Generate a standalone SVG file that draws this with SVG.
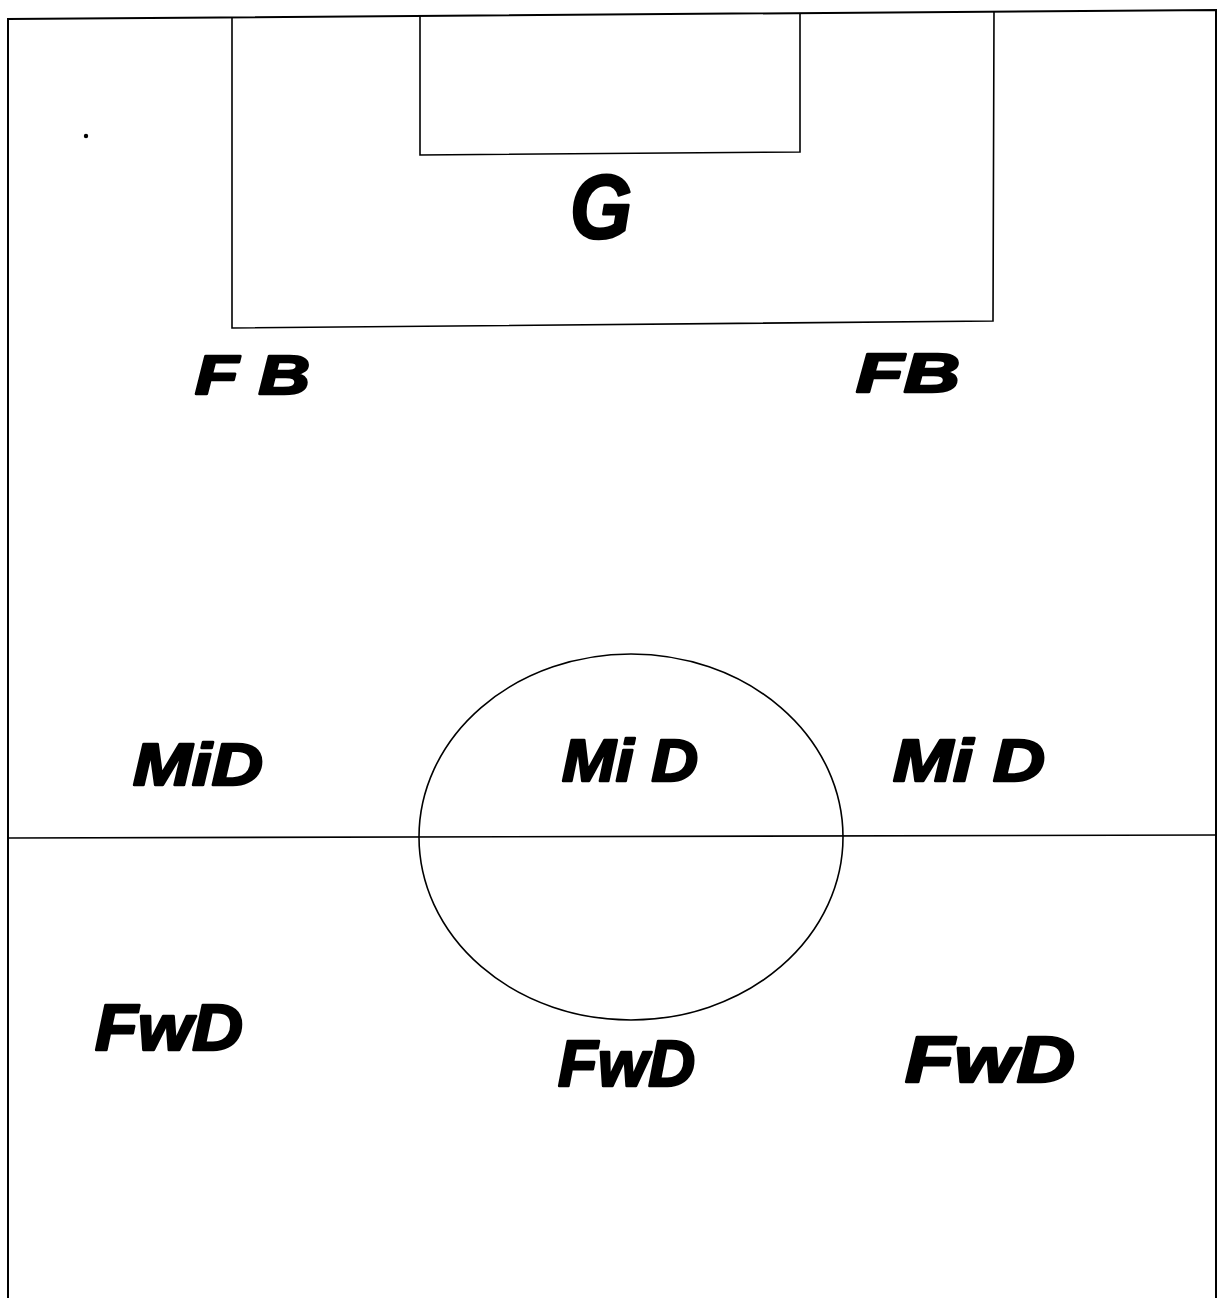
<svg xmlns="http://www.w3.org/2000/svg" width="1220" height="1298" viewBox="0 0 1220 1298">
<style>
.line{fill:none;stroke:#000;stroke-width:2;stroke-linejoin:miter}
.thin{fill:none;stroke:#000;stroke-width:1.6}
.lbl{font-family:"Liberation Sans",Arial,sans-serif;font-weight:bold;font-style:italic;fill:#000;stroke:#000;stroke-width:2.5;stroke-linejoin:round}
</style>
<rect width="1220" height="1298" fill="#fff"/>
<g id="field">
<path class="line" d="M8,1298 L8,19 L1216,10 L1216,1298"/>
<path id="penalty-box" class="thin" d="M232,17 L232,328 L993,321 L994,11"/>
<path id="goal-box" class="thin" d="M420,15 L420,155 L800,152 L800,13"/>
<path id="halfway-line" class="thin" d="M8,838 L1216,835"/>
<ellipse id="center-circle" class="thin" cx="631" cy="837" rx="212" ry="183"/>
<circle cx="86" cy="136" r="2.2" fill="#000"/>
</g>
<g id="connectors"></g>
<g id="goalkeeper"><text class="lbl" x="570" y="238" font-size="90" textLength="62" lengthAdjust="spacingAndGlyphs">G</text></g>
<g id="fullback-left"><text class="lbl" x="195" y="394" font-size="56" textLength="115" lengthAdjust="spacingAndGlyphs">F B</text></g>
<g id="fullback-right"><text class="lbl" x="856" y="392" font-size="56" textLength="104" lengthAdjust="spacingAndGlyphs">FB</text></g>
<g id="mid-left"><text class="lbl" x="133" y="785" font-size="60" textLength="130" lengthAdjust="spacingAndGlyphs">MiD</text></g>
<g id="mid-center"><text class="lbl" x="562" y="781" font-size="60" textLength="136" lengthAdjust="spacingAndGlyphs">Mi D</text></g>
<g id="mid-right"><text class="lbl" x="893" y="781" font-size="60" textLength="152" lengthAdjust="spacingAndGlyphs">Mi D</text></g>
<g id="fwd-left"><text class="lbl" x="95" y="1050" font-size="64" textLength="148" lengthAdjust="spacingAndGlyphs">FwD</text></g>
<g id="fwd-center"><text class="lbl" x="558" y="1086" font-size="64" textLength="137" lengthAdjust="spacingAndGlyphs">FwD</text></g>
<g id="fwd-right"><text class="lbl" x="905" y="1082" font-size="64" textLength="170" lengthAdjust="spacingAndGlyphs">FwD</text></g>
</svg>
